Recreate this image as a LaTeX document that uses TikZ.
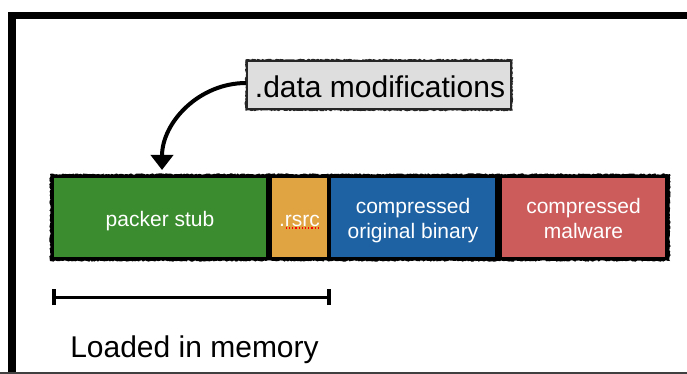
\documentclass[tikz,border=0pt]{standalone}
\usepackage{fontspec}
\setmainfont{Liberation Sans}
\usetikzlibrary{arrows.meta,decorations.pathmorphing}
\definecolor{pgreen}{HTML}{3A8C2E}
\definecolor{porange}{HTML}{E1A443}
\definecolor{pblue}{HTML}{1E62A3}
\definecolor{pred}{HTML}{CC5C5C}
\definecolor{pgray}{HTML}{DEDEDE}
\begin{document}
\begin{tikzpicture}[x=1pt,y=-1pt,
  seg/.style={draw=none,inner sep=0pt,minimum height=79pt},
  segtxt/.style={text=white,font=\fontsize{21}{25}\selectfont,inner sep=0pt,anchor=base},
  rough/.style={decoration={random steps,segment length=1.5pt,amplitude=0.7pt},decorate},
  dmbox/.style={draw=black!85,line width=1.6pt,fill=pgray,minimum width=264pt,minimum height=48pt,inner sep=0pt},
  memtxt/.style={font=\fontsize{30}{36}\selectfont,inner sep=0pt,anchor=base}]
\useasboundingbox (0,0) rectangle (687,374);
% frame
\fill[black] (8,12) rectangle (687,19);
\fill[black] (8,12) rectangle (16,374);
\fill[black!75] (0,372) rectangle (687,374);
% segment strip
\fill[black,rough] (50,174) rectangle (670,261);
\node[seg,fill=pgreen,minimum width=212pt] (stub) at (160,217.5) {};
\node[seg,fill=porange,minimum width=55pt] (rsrc) at (299.5,217.5) {};
\node[seg,fill=pblue,minimum width=164pt] (orig) at (413,217.5) {};
\node[seg,fill=pred,minimum width=163pt] (mal) at (583.5,217.5) {};
\node[segtxt] (tstub) at (160,226) {packer stub};
\node[segtxt] (trsrc) at (299.5,226) {.rsrc};
\draw[red,dotted,line width=1.2pt] ([xshift=7pt,yshift=-2pt]trsrc.base -| trsrc.west) -- ([yshift=-2pt]trsrc.base -| trsrc.east);
\node[segtxt] (torig1) at (413,213) {compressed};
\node[segtxt] (torig2) at (413,238) {original binary};
\node[segtxt] (tmal1) at (583.5,213) {compressed};
\node[segtxt] (tmal2) at (583.5,238) {malware};
% data modifications box and arrow
\node[dmbox] (dm) at (379,85) {};
\draw[black!85,line width=1.6pt,rough] (dm.north west) rectangle (dm.south east);
\node[memtxt] (tdm) at (380,98) {.data modifications};
\coordinate (tip) at (162,170);
\draw[line width=4pt,-{Triangle[width=22pt,length=15pt]}] ([yshift=2pt]dm.west) to[out=180,in=90] (tip);
% loaded in memory
\coordinate (ml) at (54,297);
\coordinate (mr) at (329,297);
\draw[line width=3pt] (ml) -- (mr);
\draw[line width=3.5pt] ([yshift=-8pt]ml) -- ([yshift=8pt]ml);
\draw[line width=3.5pt] ([yshift=-8pt]mr) -- ([yshift=8pt]mr);
\node[memtxt] (mem) at (194.5,357) {Loaded in memory};
\end{tikzpicture}
\end{document}
